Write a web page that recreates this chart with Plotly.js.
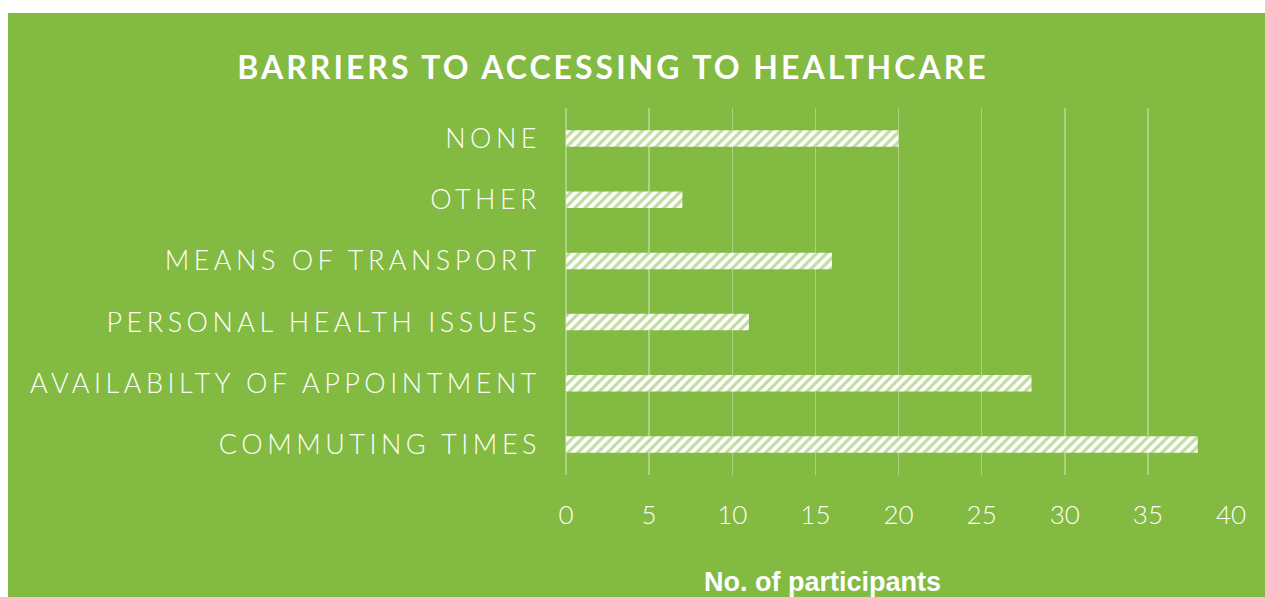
<!DOCTYPE html>
<html>
<head>
<meta charset="utf-8">
<script src="https://cdn.plot.ly/plotly-3.0.1.min.js"></script>
<style>
html, body { margin: 0; padding: 0; background: #ffffff; }
#chart { position: absolute; left: 8px; top: 13px; width: 1257px; height: 584px; }
#chart .ytick text { letter-spacing: 4.5px; }
#chart .gtitle { letter-spacing: 3px; }
</style>
</head>
<body>
<div id="chart"></div>
<script>
const categories = ["COMMUTING TIMES", "AVAILABILTY OF APPOINTMENT", "PERSONAL HEALTH ISSUES", "MEANS OF TRANSPORT", "OTHER", "NONE"];
const participants = [38, 28, 11, 16, 7, 20];
const xTicks = [0, 5, 10, 15, 20, 25, 30, 35, 40];

const green = "#82BA42";

const trace = {
  type: "bar",
  orientation: "h",
  y: categories,
  x: participants,
  width: 0.27,
  marker: {
    color: "#ffffff",
    line: { width: 0 },
    pattern: { shape: "/", fgcolor: green, bgcolor: "#ffffff", size: 7, solidity: 0.45, fillmode: "overlay" }
  },
  hoverinfo: "x+y"
};

const layout = {
  width: 1257,
  height: 584,
  paper_bgcolor: green,
  plot_bgcolor: green,
  margin: { l: 558, r: 34, t: 95, b: 122 },
  showlegend: false,
  title: {
    text: "<b>BARRIERS TO ACCESSING TO HEALTHCARE</b>",
    font: { family: "Lato, 'DejaVu Sans', sans-serif", size: 32, color: "#ffffff" },
    xref: "container", yref: "container",
    x: 605 / 1257, xanchor: "center",
    y: 1 - 55 / 584, yanchor: "middle"
  },
  xaxis: {
    range: [0, 40],
    tickvals: xTicks,
    ticktext: xTicks.map(String),
    showgrid: true,
    gridcolor: "rgba(255,255,255,0.35)",
    gridwidth: 1.5,
    zeroline: true,
    zerolinecolor: "rgba(255,255,255,0.35)",
    zerolinewidth: 1.5,
    showline: false,
    ticks: "",
    ticklabelstandoff: 22,
    tickfont: { family: "Lato, 'DejaVu Sans', sans-serif", size: 26, color: "#ffffff", weight: 300 },
    fixedrange: true
  },
  yaxis: {
    type: "category",
    categoryorder: "array",
    categoryarray: categories,
    showgrid: false,
    zeroline: false,
    showline: false,
    ticks: "",
    ticklabelstandoff: 24,
    tickfont: { family: "Lato, 'DejaVu Sans', sans-serif", size: 27, color: "#ffffff", weight: 300 },
    fixedrange: true
  },
  annotations: [{
    text: "<b>No. of participants</b>",
    xref: "paper", yref: "paper",
    x: (814 - 558) / 665, xanchor: "center",
    y: (462 - 552) / 367, yanchor: "top",
    showarrow: false,
    font: { family: "'Liberation Sans', Arial, sans-serif", size: 27, color: "#ffffff" }
  }]
};

Plotly.newPlot("chart", [trace], layout, { displayModeBar: false, staticPlot: true });
</script>
</body>
</html>
